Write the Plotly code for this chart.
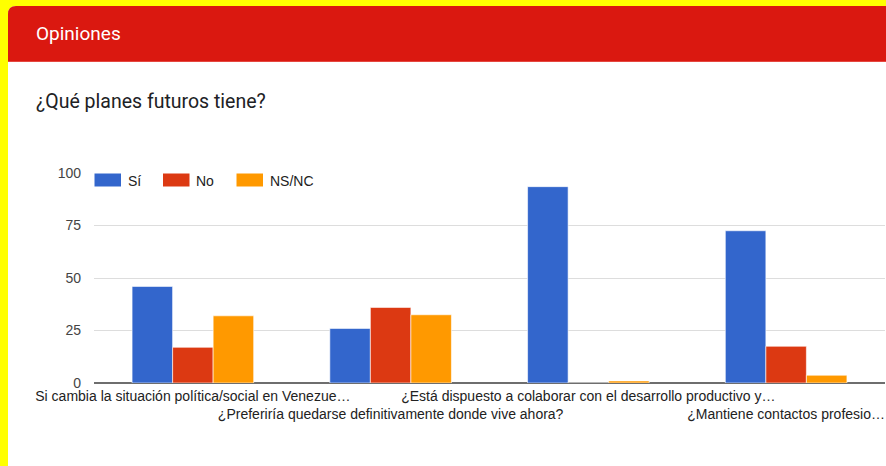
import plotly.graph_objects as go

# ---- data ----
categories = [
    "Si cambia la situación política/social en Venezue…",
    "¿Preferiría quedarse definitivamente donde vive ahora?",
    "¿Está dispuesto a colaborar con el desarrollo productivo y…",
    "¿Mantiene contactos profesio…",
]
series_names = ["Sí", "No", "NS/NC"]
si_values = [46, 26, 93.5, 72.5]
no_values = [17, 36, 0, 17.5]
nsnc_values = [32, 32.5, 1, 3.7]
y_ticks = [0, 25, 50, 75, 100]
header_text = "Opiniones"
title_text = "¿Qué planes futuros tiene?"

colors = ["#3366CC", "#DC3912", "#FF9900"]
values = [si_values, no_values, nsnc_values]

W, H = 886, 466
L, R, T, B = 94, 1, 173, 83
PW, PH = W - L - R, H - T - B


def px(x):
    return (x - L) / PW


def py(y):
    return (H - B - y) / PH


fig = go.Figure()
for name, vals, col in zip(series_names, values, colors):
    fig.add_trace(go.Bar(
        x=categories, y=vals, name=name,
        marker=dict(color=col, line=dict(color="rgba(255,255,255,0.6)", width=1)),
        showlegend=False,
    ))

# staggered tick labels
ticktext = [c if i % 2 == 0 else "<br>" + c for i, c in enumerate(categories)]

shapes = []
# white card with rounded top-left corner
r = 8
x0, y0, x1, y1 = 8, 6, 900, 480
card = (f"M {px(x0)} {py(y0 + r)} Q {px(x0)} {py(y0)} {px(x0 + r)} {py(y0)} "
        f"L {px(x1)} {py(y0)} L {px(x1)} {py(y1)} L {px(x0)} {py(y1)} Z")
shapes.append(dict(type="path", xref="paper", yref="paper", path=card,
                   fillcolor="white", line=dict(width=0), layer="below"))
# red header
hy1 = 61
head = (f"M {px(x0)} {py(y0 + r)} Q {px(x0)} {py(y0)} {px(x0 + r)} {py(y0)} "
        f"L {px(x1)} {py(y0)} L {px(x1)} {py(hy1)} L {px(x0)} {py(hy1)} Z")
shapes.append(dict(type="path", xref="paper", yref="paper", path=head,
                   fillcolor="#DA1810", line=dict(width=0), layer="below"))
shapes.append(dict(type="line", xref="paper", yref="paper",
                   x0=px(x0), x1=px(x1), y0=py(61.5), y1=py(61.5),
                   line=dict(color="#E5473F", width=1), layer="below"))

annotations = [
    dict(text=header_text, xref="paper", yref="paper", x=px(34), y=py(34),
         xanchor="left", yanchor="middle", showarrow=False,
         font=dict(family="Roboto", size=19, color="white")),
    dict(text=title_text, xref="paper", yref="paper", x=px(34), y=py(101),
         xanchor="left", yanchor="middle", showarrow=False,
         font=dict(family="Roboto", size=19.5, color="#202124")),
]

# custom legend
leg_x = [94.5, 163, 236.5]
for i, (name, col) in enumerate(zip(series_names, colors)):
    sx = leg_x[i]
    shapes.append(dict(type="rect", xref="paper", yref="paper",
                       x0=px(sx), x1=px(sx + 26.5), y0=py(173.5), y1=py(186.5),
                       fillcolor=col, line=dict(width=0)))
    annotations.append(dict(text=name, xref="paper", yref="paper",
                            x=px(sx + 31), y=py(180.5), xanchor="left",
                            yanchor="middle", showarrow=False,
                            font=dict(family="Liberation Sans, Arial", size=14,
                                      color="#222222")))

fig.update_layout(
    width=W, height=H,
    margin=dict(l=L, r=R, t=T, b=B, pad=0),
    paper_bgcolor="#FFFF00",
    plot_bgcolor="rgba(0,0,0,0)",
    barmode="group",
    bargap=0.385,
    bargroupgap=0.0,
    shapes=shapes,
    annotations=annotations,
    font=dict(family="Liberation Sans, Arial", size=14, color="#222222"),
    xaxis=dict(
        tickmode="array", tickvals=categories, ticktext=ticktext,
        showgrid=False, showline=False, ticks="",
        tickfont=dict(size=14, color="#222222"), ticklabelstandoff=3,
        tickangle=0, automargin=False,
    ),
    yaxis=dict(
        range=[0, 100], tickvals=y_ticks, showgrid=True, gridcolor="#DDDDDD",
        gridwidth=1, zeroline=True, zerolinecolor="#6E6E6E", zerolinewidth=2,
        showline=False, ticks="", ticklabelstandoff=12,
        tickfont=dict(size=14, color="#444444"), automargin=False,
    ),
)

fig.write_html(
    "out.html",
    config={"displayModeBar": False},
    post_script="document.body.style.margin='0';"
                "document.body.style.background='#FFFF00';"
                "document.body.style.overflow='hidden';",
)
